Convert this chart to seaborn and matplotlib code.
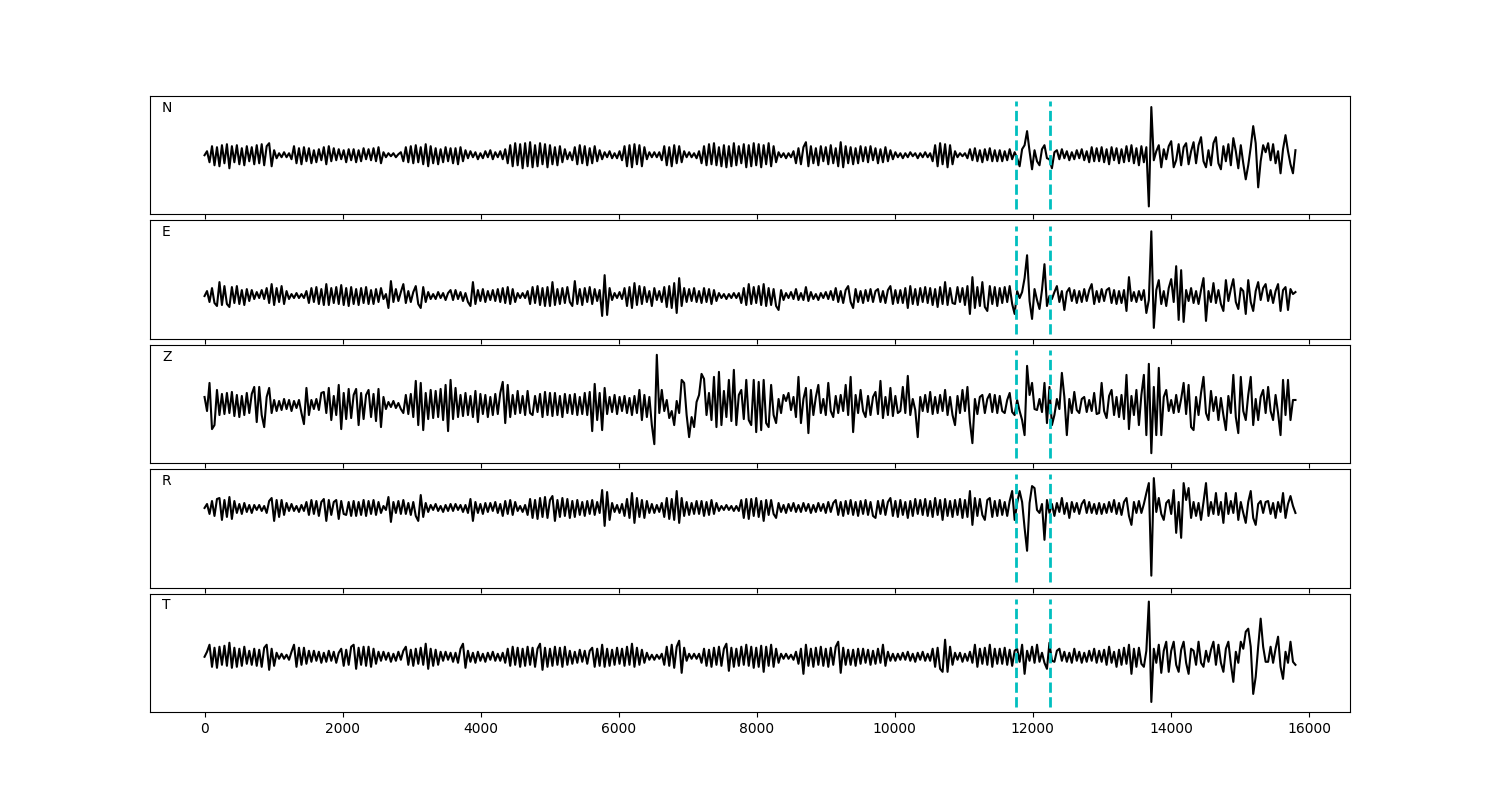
import numpy as np
import matplotlib
matplotlib.use("Agg")
import matplotlib.pyplot as plt
import seaborn as sns

# ---------------- data ----------------
components = ["N", "E", "Z", "R", "T"]
sample_step = 36                 # samples between listed amplitude values
pick_times = [11750, 12250]      # dashed pick markers (sample index)

N_trace = [
    0, 4, -7, 9, -10, 8, -11, 10, -8, 11, -13, 9, -7, 10, -9, 7, -10, 9, -6, 8,
    -9, 10, -8, 11, -10, 9, 12, -11, 5, -3, 2, -2, 3, -2, 2, -4, 9, -8, 7, -9,
    8, -6, 7, -8, 5, -7, 6, -5, 8, -9, 9, -6, 7, -5, 6, -4, 5, -7, 6, -5,
    6, -7, 5, -6, 7, -4, 6, -5, 7, -6, 8, -8, 3, -2, 2, -1, 2, -2, 1, 3,
    -6, 8, -7, 9, -8, 10, -7, 8, -9, 11, -11, 9, -8, 7, -9, 6, -7, 8, -6, 7,
    -8, 7, -9, 8, -6, 5, -3, 4, -2, 3, -4, 2, -3, 4, -2, 5, -4, 3, -2, 4,
    -4, 6, -8, 10, -11, 12, -10, 11, -13, 12, -11, 13, -12, 10, -11, 12, -9, 11, -12, 10,
    -9, 8, -10, 9, -7, 6, -4, 3, -5, 8, -9, 10, -8, 9, -10, 7, -8, 9, -6, 5,
    -4, 3, -2, 4, -3, 2, -3, 4, -5, 9, -11, 10, -12, 11, -9, 10, -11, 8, -4, 3,
    -2, 3, -2, 3, -5, 9, -10, 8, -11, 10, -8, 9, -7, 4, -2, 3, -2, 2, -3, 4,
    -8, 9, -10, 11, -9, 12, -10, 8, -11, 10, -12, 9, -11, 12, -10, 9, -8, 11, -12, 10,
    -11, 12, -10, 11, -12, 10, -9, 12, -11, 9, -7, 3, -2, 2, -3, 2, -2, 4, -8, 7,
    -9, 8, 13, -11, 9, -8, 7, -10, 9, -6, 8, -9, 10, -8, 7, -11, 13, -12, 9, -8,
    8, -9, 7, -8, 9, -6, 8, -7, 9, -5, 7, -8, 6, -7, 8, -6, 5, -4, 3, -2,
    2, -3, 2, -2, 3, -1, 2, -3, 2, -2, 3, -2, 2, -6, 10, -11, 12, -9, 11, -12,
    10, -9, 4, -2, 2, -1, 2, -3, 6, -5, 7, -6, 5, -7, 6, -5, 7, -6, 5, -6,
    5, -6, 4, -5, 6, -4, 3, -3, -11, 6, 10, 24, 4, -14, 5, -6, -10, 6, 10, -3,
    -4, -13, 3, 5, -4, 6, -3, 4, -5, 3, -4, 5, -3, 6, -5, 4, -7, 8, -6, 7,
    -6, 8, -7, 6, -9, 8, -5, 7, -8, 6, -7, 9, -6, 10, -8, 7, -10, 9, -7, 8,
    -51, 48, -5, 4, 10, -12, 6, -4, 9, 14, -12, -5, 11, -10, 8, 12, -9, 4, 13, -8,
    10, 18, -6, -12, 5, -10, 12, 18, -8, -14, 9, -6, 11, -10, 17, 4, -13, 10, -8, -24,
    -10, 8, 29, 12, -32, -6, 10, 3, 12, -5, 11, -8, 4, -18, 6, 20, 4, -9, -18, 5,
]

E_trace = [
    0, 5, -6, 8, -7, -10, 14, -9, 10, -8, -11, 9, -7, 10, -8, 6, -9, 7, -5, 6,
    -3, 4, -2, 6, -3, 8, -7, 12, -9, 8, -6, 10, -8, 5, -3, 2, -2, 3, -2, 2,
    -2, 5, -7, 8, -6, 9, -8, 7, -9, 12, -9, 8, -7, 9, -8, 11, -9, 8, -10, 9,
    -8, 7, -9, 8, -7, 9, -8, 6, -8, 7, -6, 8, -3, 2, -12, 15, -6, 7, -5, 4,
    12, -7, 5, -6, 4, 10, -8, -12, 9, -6, 4, -3, 2, -3, 4, -2, 3, -4, 3, 6,
    -4, 6, -3, 4, -5, 3, -6, -10, 14, -8, 6, -5, 7, -6, 5, -4, 6, -5, 7, -6,
    8, -7, 9, -8, 7, -6, 3, -2, 3, -2, 5, -8, 9, -7, 10, -9, 8, -10, 9, -10,
    14, -9, 7, -8, 8, -7, 9, -6, -10, 15, -8, 7, -9, 8, -6, 9, -8, 7, -5, 6,
    -20, 21, -19, 8, -4, 3, -2, 4, -3, 8, -10, 9, -12, 13, -9, 10, -8, 9, -6, 5,
    -10, 8, -4, 5, -6, 9, -11, 10, -12, 13, -17, 18, -10, 8, -6, 7, -5, 8, -6, 5,
    -7, 8, -6, 7, -8, 6, -5, 3, -2, 2, -3, 2, -2, 3, -2, 3, -7, 8, -9, 12,
    -8, 9, -7, 10, -9, 12, -10, 8, -9, 7, -10, -14, 6, -4, 3, -2, 4, -3, 7, -4,
    3, -4, 9, -5, 4, -3, 2, -4, 3, -2, 4, -3, 5, -4, 8, -6, 5, -7, 6, 10,
    -6, -12, 7, -6, 5, -7, 6, -5, 7, -6, 5, 7, -6, 5, -7, 6, 10, -8, 6, -7,
    6, -7, 8, -12, 10, -8, 7, -9, 8, -6, 9, -7, 8, -9, 7, -11, 9, -8, 14, -9,
    8, -7, -8, 9, -6, 8, -9, 10, -18, 19, -12, 9, -10, 14, -11, -15, 10, -8, 9, -10,
    8, -7, 9, -6, 10, -8, -18, 5, -2, 4, 18, 41, -5, -23, 7, -4, -13, 6, 32, -10,
    0, -3, 4, 10, -6, 5, -14, 4, 8, -5, 6, -7, 5, -6, 7, -5, 6, 12, -8, 5,
    -6, 7, -5, 6, 8, -7, 6, -8, 5, -7, 6, -15, 19, -5, 4, -6, 5, -4, 6, -17,
    -4, 65, -32, 6, 16, -8, 5, -10, 8, 17, -6, 30, -24, 26, -26, 6, -5, 8, -7, 5,
    -8, 6, 18, -25, 5, -6, 13, -7, 6, -8, -15, 16, -5, 7, 17, -6, -13, 8, 5, -18,
    16, -6, -15, 5, 14, -4, 8, 12, -5, 6, -7, 5, 12, -15, 6, 9, -14, 7, 2, 4,
]

Z_trace = [
    8, -6, 22, -24, -20, 15, -10, 11, -9, 12, -8, 13, -11, 10, -12, 9, -10, 12, -8, 11,
    18, -17, 18, -10, -22, 8, 17, -8, 5, -6, 4, -5, 6, -4, 5, -6, 4, -3, 5, -8,
    -19, 17, -10, 5, -4, 6, -5, 12, 13, -8, 17, -15, 9, -10, 20, -24, 12, -14, 16, -13,
    10, 16, -20, 12, -14, 10, 15, -12, 11, -16, 16, -22, 8, -4, 3, -2, 4, -3, 2, -4,
    -8, 10, -9, 11, -12, 24, -20, 22, -25, 12, -14, 15, -13, 14, -12, 16, -15, 20, -26, 25,
    -14, 17, -12, 10, -11, 12, -10, 9, -12, 14, -17, 11, -9, 10, -12, 8, -10, 11, -9, 12,
    23, -18, 20, -12, 10, -9, 14, -8, 9, -10, 14, -8, -10, 9, -7, 11, -12, 13, -10, 12,
    -11, 12, -10, 9, -12, 11, -8, 10, -9, 11, -10, 8, -9, 12, -10, 13, -26, 21, -15, 12,
    -25, 17, -9, 8, -7, 10, -9, 8, -6, 9, -8, 7, -10, 9, -8, 15, -15, 10, -12, 8,
    -20, -39, 50, -8, 15, -6, 5, -13, -6, -20, 4, -8, 25, 22, -10, -32, -12, -22, 3, 10,
    31, 26, -10, 12, -15, 28, -22, 33, -20, 14, -12, 25, -16, 35, -20, 10, 15, -14, 25, -15,
    -20, 25, -27, 23, -25, 25, -18, -22, 20, -10, -18, 6, -8, 10, 4, 12, -5, 8, -12, 28,
    -18, 6, 17, -28, 15, -10, 8, 20, -8, 6, -10, 22, -6, -12, 9, -8, 10, -6, 20, -10,
    28, -27, 10, -8, 15, -6, -12, 9, -10, 8, 13, -9, 24, -13, 8, -10, 17, -11, 9, -8,
    -6, 18, -8, 29, -10, 6, -5, -32, 8, -6, 10, -7, 13, -9, 8, -8, 10, -6, 15, -10,
    8, -10, -20, 9, -8, 15, -6, 18, -17, -38, 6, -9, 8, 10, -8, 6, 11, -7, 10, -8,
    9, -6, -8, 5, 12, -7, -10, 5, -6, -15, -30, 39, 10, 22, -4, -5, 6, -7, 22, -18,
    18, -20, -10, 6, -4, 32, 8, -30, 6, -8, 13, -5, -8, 6, 8, -7, 5, -6, 12, -9,
    -8, 22, -6, -13, 9, 15, -10, 8, -12, 10, -14, 30, -24, 9, -10, 15, -20, 10, 30, -30,
    41, -48, 18, -30, 37, -30, 8, 15, -6, 5, -8, 10, -7, 6, 22, -9, 20, -22, -25, 8,
    -10, 12, 28, -8, -15, 14, -6, 8, -15, 7, -10, -25, 9, -8, 30, -12, -28, 28, -6, -15,
    10, 28, -20, 6, -15, 8, 15, -8, 18, -6, -15, 10, -8, -30, 25, -10, 25, -15, 5, 5,
]

R_trace = [
    0, 4, -6, 7, -8, 9, 10, -12, 8, -9, 11, -11, 7, -5, 4, -6, 5, -4, 3, -5,
    3, -2, 3, -3, 2, -5, 7, 10, -13, 8, -9, 8, -7, 5, -3, 4, -3, 2, -4, 3,
    -3, 6, -7, 8, -6, 7, -8, 6, 9, -13, 8, -7, 6, 8, -11, 7, -6, -7, 6, -8,
    7, -8, 6, -7, 8, -8, 7, -6, 8, -7, 6, -5, 2, -2, 11, -14, 6, -5, 7, -6,
    8, -6, 5, -7, 6, -8, -13, 13, -9, 5, -4, 3, -2, 4, -3, 2, -4, 3, -3, 4,
    -3, 4, -2, 3, -4, 3, -5, 9, -13, 6, -5, 4, -6, 5, -4, 5, -3, 6, -5, 4,
    -8, 7, -6, 8, -7, 6, -3, 2, -4, 3, -7, 9, -10, 8, -11, 10, -9, 11, -10, 8,
    12, -13, 8, -9, 10, -8, 9, -10, 7, -9, 8, -7, 6, -8, 7, -6, 8, -7, 6, -5,
    18, -18, 16, -12, 5, -4, 3, -5, 4, -8, 9, -10, 15, -15, 10, -9, 8, -10, 7, -5,
    4, -5, 3, -4, 5, -9, 10, -11, 9, -12, 17, -15, 10, -8, 6, -7, 5, -6, 7, -6,
    7, -8, 6, -7, 8, -6, 5, -3, 2, -2, 3, -2, 2, -3, 2, -3, 8, -10, 9, -11,
    9, -8, 10, -9, 7, -13, 8, -7, 8, -6, -10, 5, -4, 3, -5, 4, -3, 5, -4, 3,
    -4, 5, -3, 4, -5, 3, -4, 5, -3, 4, -5, 6, -4, 5, 8, -7, 6, -8, 7, -6,
    8, -7, 6, -8, 7, -6, 8, -7, 6, -8, -10, 7, -6, 8, -7, 6, 10, -8, 7, -9,
    8, -7, 6, -10, 7, -8, 9, -6, 8, -7, 9, -8, 7, -9, 10, -7, 8, -12, 9, -8,
    7, -9, 8, -7, 9, -10, 8, -9, 17, -17, 10, -8, 9, -7, -12, 8, 10, -9, 7, -8,
    8, -7, 6, -8, 7, 17, -12, 5, 17, 6, -20, -43, 5, 22, 20, -2, -5, 4, -32, 8,
    -5, 4, -8, 5, -4, 10, -6, 5, -10, 6, -4, 5, -6, 4, 8, -5, 6, -5, 4, -6,
    5, -6, 4, -5, 6, -4, 8, -6, 5, -7, 6, 10, -8, -17, 6, -5, 7, -5, 4, 15,
    25, -68, 30, -4, 10, -6, -12, 5, 8, -6, 18, -25, 6, -30, 25, 8, 20, -10, 6, -8,
    5, -12, 6, 25, -8, 6, -6, 15, -7, 6, -15, 15, -6, 7, -5, 15, -12, 6, -5, -15,
    6, 17, -10, -17, 4, 7, -5, 6, 7, -6, 5, -10, 6, -4, 15, -10, 4, 12, 2, -5,
]

T_trace = [
    0, 5, 12, -10, 9, -11, 10, -8, 11, -9, 14, -11, 9, -10, 8, -9, 10, -7, 6, -8,
    8, -9, 7, -10, 9, 12, -13, 8, -9, 4, -2, 3, -2, 2, -3, 5, 12, -10, 9, -8,
    9, -7, 6, -5, 6, -4, 5, -6, 4, -5, 6, -4, 5, -6, 4, 8, -9, 7, -8, 10,
    12, -12, 9, -8, 10, -9, 10, -10, 8, -7, 5, -4, 5, -3, 4, -5, 3, -4, 5, -3,
    6, 10, -8, 7, -9, 8, -7, 9, -8, 13, -12, 8, -9, 7, -8, 5, -4, 5, -3, 4,
    -5, 4, -6, 8, 13, -11, 6, -5, 4, -6, 5, -4, 3, -5, 4, -3, 5, -4, 3, -4,
    4, -6, 8, -9, 10, -8, 9, -10, 8, -9, 10, -8, 9, -10, 8, 13, -13, 9, -10, 8,
    -9, 10, -8, 9, -10, 10, -8, 6, -7, 5, -6, 7, -5, 6, -7, 6, 9, -10, 8, -9,
    12, -10, 8, -9, 7, -8, 9, -7, 8, -9, 10, -8, 13, -10, 9, -8, 7, -6, 4, -3,
    2, -3, 2, -2, 3, -8, 10, -9, 12, -11, 10, 16, -16, 9, -4, 3, -2, 3, -2, 3,
    -6, 8, -9, 7, -10, 9, -8, 10, -9, 8, 13, -14, 9, -10, 8, -9, 10, -8, 12, -9,
    10, -11, 9, -10, 11, -15, 10, -9, 12, -10, 8, -6, 3, -2, 3, -2, 2, -3, 5, -7,
    8, -17, 12, -9, 8, -10, 9, -8, 10, -9, 8, -10, 9, -8, 10, 15, -16, 9, -8, 7,
    -8, 7, -9, 8, -7, 8, -6, 7, -8, 6, -7, 8, -6, 12, -9, 5, -4, 3, -4, 3,
    -3, 4, -3, 5, -4, 3, -5, 4, -3, 5, -4, 3, -4, 8, -10, 9, -12, -15, 17, -15,
    10, -8, 4, -3, 4, -5, 3, -4, 5, -6, 12, -10, 8, -7, 9, -8, 12, -10, 8, -7,
    8, -7, 9, -8, 7, -9, 6, 8, -5, 12, -17, 6, -4, 10, -6, 12, -5, 4, -6, -12,
    14, -4, -5, 6, 8, -4, 5, -5, 4, -6, 8, -4, 5, -6, 4, -5, 6, -4, 8, -6,
    6, -5, 7, -8, 10, -6, 5, -10, 7, -8, 9, -7, 12, -17, 8, -10, 9, -7, -10, 6,
    55, -45, 8, -6, 12, -16, 6, 15, -15, 6, 15, -8, -15, 7, 15, -6, -17, 8, 6, -8,
    15, -6, -10, 6, -5, 7, 15, -8, 12, -6, -15, 8, 15, -7, -25, 5, -6, 15, 8, 25,
    28, 10, -37, -20, 10, 38, 10, -5, -5, 10, -6, 8, 20, -10, -22, 5, -6, 15, -5, -8,
]

traces = {"N": N_trace, "E": E_trace, "Z": Z_trace, "R": R_trace, "T": T_trace}

# vertical view window per panel (layout only)
panel_ylim = {"N": (-59, 59), "E": (-43, 76), "Z": (-58, 60),
              "R": (-80, 39), "T": (-55, 63)}

# ---------------- plot ----------------
fig, axes = plt.subplots(5, 1, sharex=True, figsize=(15, 8), dpi=100)
fig.subplots_adjust(left=0.1, right=0.9, top=0.88, bottom=0.11, hspace=0.05)

for ax, comp in zip(axes, components):
    vals = np.asarray(traces[comp], dtype=float)
    samples = np.arange(len(vals)) * sample_step
    sns.lineplot(x=samples, y=vals, ax=ax, color="black", linewidth=1.5,
                 estimator=None, sort=False)
    for t in pick_times:
        ax.axvline(t, ymin=0.045, ymax=0.955, color="c", linestyle="--",
                   linewidth=2)
    ax.set_ylim(*panel_ylim[comp])
    ax.set_yticks([])
    ax.set_ylabel("")
    ax.set_xlabel("")
    ax.text(0.01, 0.9, comp, transform=ax.transAxes, ha="left", va="center",
            fontsize=10)

fig.savefig("out.png", dpi=100)
